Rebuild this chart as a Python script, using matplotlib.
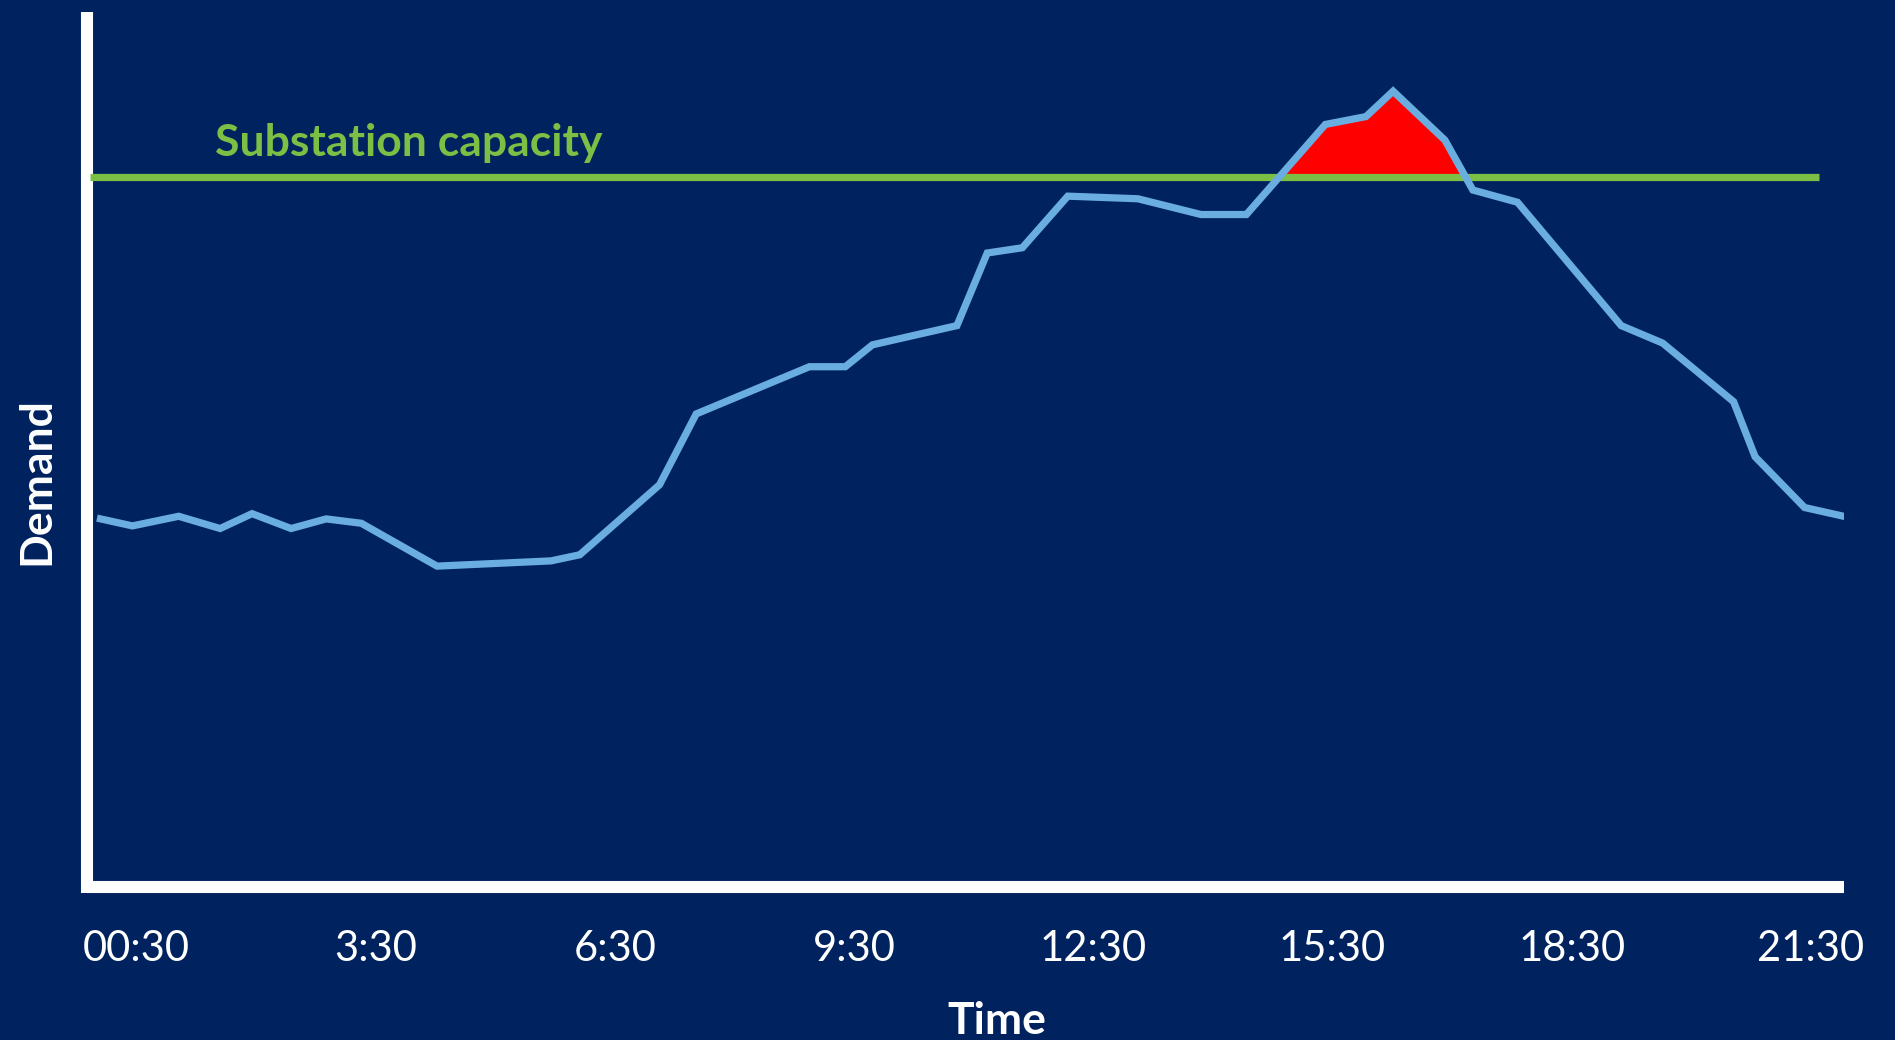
import matplotlib
matplotlib.use("Agg")
from matplotlib import pyplot as plt
import numpy as np

# demand curve (hours of day, relative demand 0-100)
hours = [0.05, 0.45, 1.03, 1.55, 1.95, 2.44, 2.88, 3.32, 4.27, 5.70, 6.06, 7.06, 7.52,
         8.94, 9.39, 9.73, 10.79, 11.17, 11.61, 12.18, 13.06, 13.85, 14.42, 15.41,
         15.92, 16.26, 16.91, 17.26, 17.82, 19.12, 19.64, 20.53, 20.80, 21.42, 21.91]
demand = [42.1, 41.3, 42.4, 41.0, 42.7, 41.0, 42.1, 41.6, 36.7, 37.3, 38.0, 46.0, 54.1,
          59.5, 59.5, 62.0, 64.2, 72.5, 73.1, 79.0, 78.7, 76.9, 76.9, 87.2,
          88.1, 91.0, 85.4, 79.7, 78.3, 64.2, 62.2, 55.5, 49.2, 43.4, 42.4]

capacity = 81.2
capacity_span = (-0.08, 21.6)

tick_hours = [0.5, 3.5, 6.5, 9.5, 12.5, 15.5, 18.5, 21.5]
tick_labels = ["00:30", "3:30", "6:30", "9:30", "12:30", "15:30", "18:30", "21:30"]

BG = "#00235F"
LINE = "#6AADE0"
GREEN = "#7BBF45"
FONT = ["Lato", "DejaVu Sans"]

fig = plt.figure(figsize=(18.95, 10.40), dpi=100, facecolor=BG)
ax = fig.add_axes([0.0459, 0.147, 0.927, 0.841])
ax.set_facecolor(BG)

x = np.array(hours)
y = np.array(demand)
ax.fill_between(x, y, capacity, where=y > capacity, interpolate=True,
                color="#FF0000", linewidth=0, zorder=2)
ax.hlines(capacity, capacity_span[0], capacity_span[1], color=GREEN, linewidth=5.2, zorder=3)
ax.plot(x, y, color=LINE, linewidth=5.2, solid_joinstyle="miter", zorder=4)

ax.text(1.48, capacity + 2.4, "Substation capacity", color=GREEN, fontsize=32,
        fontweight="bold", family=FONT, ha="left", va="baseline")

ax.set_xlim(-0.12, 21.91)
ax.set_ylim(0, 100)
ax.set_xticks(tick_hours)
ax.set_xticklabels(tick_labels, color="white", fontsize=30, family=FONT)
ax.set_yticks([])
ax.tick_params(axis="x", length=0, pad=31)

for side in ["top", "right"]:
    ax.spines[side].set_visible(False)
for side in ["left", "bottom"]:
    ax.spines[side].set_color("white")
    ax.spines[side].set_linewidth(8.7)
    ax.spines[side].set_capstyle("butt")
# let the vertical axis line reach the bottom edge of the horizontal one
ax.spines["left"].set_bounds(-0.7, 100)

fig.text(0.019, 0.537, "Demand", color="white", fontsize=32, fontweight="bold",
         family=FONT, rotation=90, ha="center", va="center")
fig.text(0.526, 0.006, "Time", color="white", fontsize=32, fontweight="bold",
         family=FONT, ha="center", va="baseline")

fig.savefig("out.png", dpi=100, facecolor=BG)
